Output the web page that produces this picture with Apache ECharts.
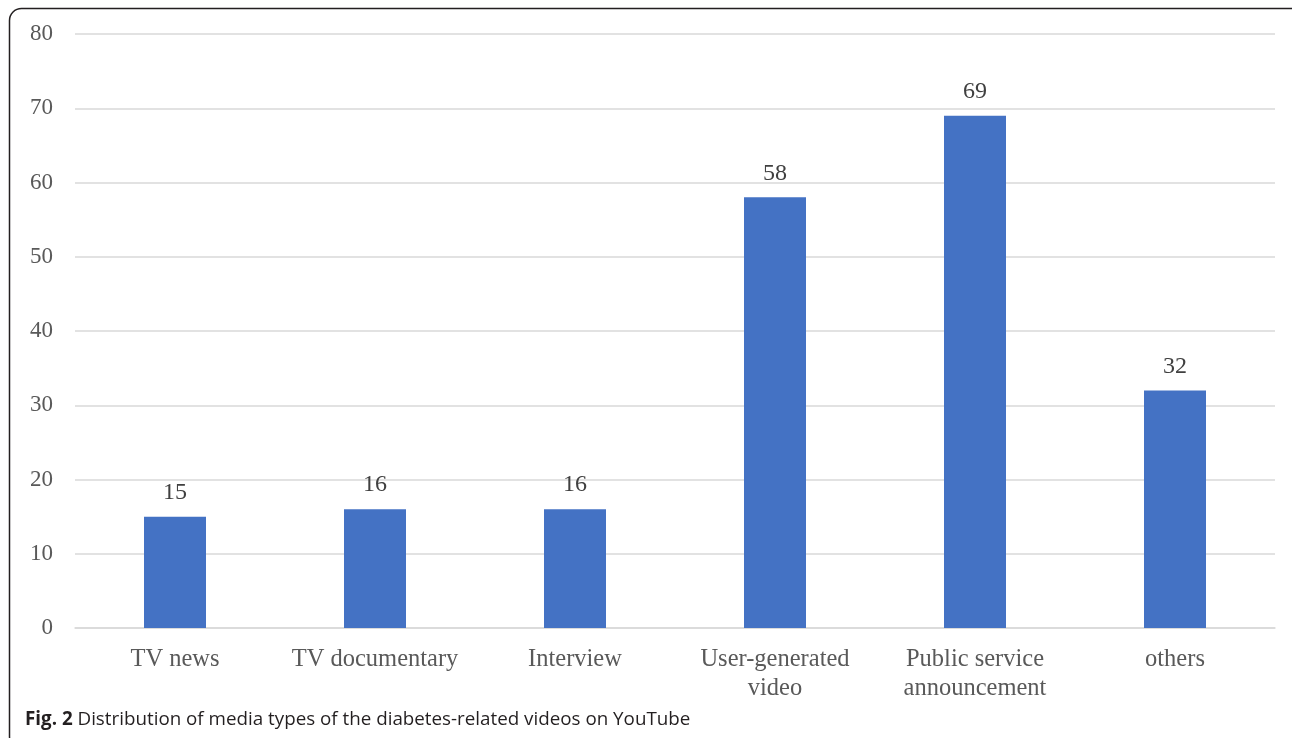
<!DOCTYPE html>
<html>
<head>
<meta charset="utf-8">
<script src="https://cdn.jsdelivr.net/npm/echarts@6/dist/echarts.min.js"></script>
<style>
  html, body { margin: 0; padding: 0; background: #fff; }
  #chart { width: 1292px; height: 738px; }
</style>
</head>
<body>
<div id="chart"></div>
<script>
// Media types of diabetes-related YouTube videos
const categories = ['TV news', 'TV documentary', 'Interview', 'User-generated\nvideo', 'Public service\nannouncement', 'others'];
const videoCounts = [15, 16, 16, 58, 69, 32];
const yTicks = { min: 0, max: 80, interval: 10 };
const captionLead = 'Fig. 2';
const captionText = ' Distribution of media types of the diabetes-related videos on YouTube';

const chart = echarts.init(document.getElementById('chart'));
const serif = '"Liberation Serif", "Times New Roman", serif';
const sans = '"Open Sans", "Noto Sans", sans-serif';

chart.setOption({
  animation: false,
  grid: { left: 75, right: 17, top: 34, bottom: 110 },
  xAxis: {
    type: 'category',
    data: categories,
    axisLine: { show: true, lineStyle: { color: '#d9d9d9', width: 1.5 } },
    axisTick: { show: false },
    axisLabel: {
      fontFamily: serif, fontSize: 24.5, color: '#595959',
      margin: 17, lineHeight: 29, interval: 0
    }
  },
  yAxis: {
    type: 'value',
    min: yTicks.min, max: yTicks.max, interval: yTicks.interval,
    axisLine: { show: false },
    axisTick: { show: false },
    splitLine: { lineStyle: { color: '#d9d9d9', width: 1.5 } },
    axisLabel: { fontFamily: serif, fontSize: 23, color: '#595959', margin: 22 }
  },
  series: [{
    type: 'bar',
    data: videoCounts,
    barWidth: 62,
    itemStyle: { color: '#4472c4' },
    label: {
      show: true, position: 'top', distance: 12,
      fontFamily: serif, fontSize: 24, color: '#404040'
    }
  }],
  graphic: [
    {
      type: 'rect',
      shape: { x: 9.5, y: 8.5, width: 1300, height: 740, r: 12 },
      style: { fill: 'none', stroke: '#231f20', lineWidth: 1.5 },
      silent: true
    },
    {
      type: 'text',
      left: 25, top: 710,
      style: {
        text: '{b|' + captionLead + '}{n|' + captionText + '}',
        rich: {
          b: { fontFamily: sans, fontWeight: 'bold', fontSize: 18.8, fill: '#231f20' },
          n: { fontFamily: sans, fontSize: 18.8, fill: '#231f20' }
        }
      }
    }
  ]
});
</script>
</body>
</html>
